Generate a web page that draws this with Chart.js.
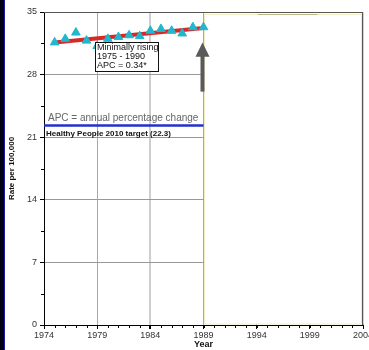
<!DOCTYPE html>
<html lang="en">
<head>
<meta charset="UTF-8">
<title>Rate per 100,000</title>
<script src="https://cdn.jsdelivr.net/npm/chart.js"></script>
<style>
    body, html {
        margin: 0;
        padding: 0;
        background: #fff;
        overflow: hidden;
    }
    .wrap {
        position: relative;
        width: 380px;
        height: 350px;
    }
    .band {
        position: absolute;
        left: 0;
        top: 0;
        width: 4px;
        height: 350px;
        background: #000018;
        border-right: 1px solid #1a1aa0;
    }
</style>
</head>
<body>
<div class="wrap">
    <canvas id="chart" width="380" height="350"></canvas>
    <div class="band"></div>
</div>
<script>
// observed rates (triangles)
var years = [1975, 1976, 1977, 1978, 1979, 1980, 1981, 1982, 1983, 1984, 1985, 1986, 1987, 1988, 1989];
var rates = [31.6, 32.0, 32.7, 31.8, 31.2, 32.0, 32.2, 32.4, 32.3, 32.9, 33.1, 32.9, 32.6, 33.3, 33.3];
// fitted trend 1975 - 1990
var trendYears = [1975, 1989];
var trendRates = [31.6, 33.2];
// Healthy People 2010 target
var targetYears = [1974, 1989];
var targetValue = 22.3;
var xTicks = [1974, 1979, 1984, 1989, 1994, 1999, 2004];
var yTicks = [0, 7, 14, 21, 28, 35];

var font = "'Liberation Sans', Arial, sans-serif";

function pts(xs, ys) {
    return xs.map(function (x, i) { return { x: x, y: Array.isArray(ys) ? ys[i] : ys }; });
}

var extras = {
    id: 'extras',
    beforeDatasetsDraw: function (chart) {
        var ctx = chart.ctx, xs = chart.scales.x, a = chart.chartArea;
        var x0 = Math.round(xs.getPixelForValue(1989)) + 0.5;
        ctx.save();
        // blank panel after 1989
        ctx.fillStyle = '#fff';
        ctx.fillRect(x0 + 0.5, a.top, a.right - x0, a.bottom - a.top - 1);
        ctx.strokeStyle = '#f2edc4';
        ctx.lineWidth = 1;
        ctx.strokeRect(x0, a.top + 2.5, a.right - x0 - 1.5, a.bottom - a.top - 3.5);
        // frame top and right
        ctx.strokeStyle = '#555';
        ctx.beginPath();
        ctx.moveTo(a.left, a.top + 0.5);
        ctx.lineTo(a.right, a.top + 0.5);
        ctx.moveTo(a.right - 0.5, a.top);
        ctx.lineTo(a.right - 0.5, a.bottom);
        ctx.stroke();
        // remnant line near top
        ctx.strokeStyle = '#b9b98a';
        ctx.beginPath();
        ctx.moveTo(xs.getPixelForValue(1994.1), a.top + 2.5);
        ctx.lineTo(xs.getPixelForValue(1999.7), a.top + 2.5);
        ctx.stroke();
        ctx.restore();
    },
    afterDraw: function (chart) {
        var ctx = chart.ctx, xs = chart.scales.x, ys = chart.scales.y, a = chart.chartArea;
        ctx.save();
        // minor ticks
        ctx.strokeStyle = '#000';
        ctx.lineWidth = 1;
        ctx.beginPath();
        for (var yr = 1974; yr <= 2004; yr++) {
            var px = Math.round(xs.getPixelForValue(yr)) + 0.5;
            ctx.moveTo(px, a.bottom);
            ctx.lineTo(px, a.bottom + 3);
        }
        for (var v = 3.5; v < 35; v += 7) {
            var py = Math.round(ys.getPixelForValue(v)) + 0.5;
            ctx.moveTo(a.left, py);
            ctx.lineTo(a.left - 3, py);
        }
        ctx.stroke();

        // arrow at 1989
        var ax = xs.getPixelForValue(1989) - 1;
        var tip = ys.getPixelForValue(31.6);
        var base = ys.getPixelForValue(30.0);
        var tail = ys.getPixelForValue(26.1);
        ctx.fillStyle = '#5a5a5a';
        ctx.fillRect(ax - 2, base - 1, 4, tail - base + 1);
        ctx.beginPath();
        ctx.moveTo(ax, tip);
        ctx.lineTo(ax - 7, base);
        ctx.lineTo(ax + 7, base);
        ctx.closePath();
        ctx.fill();

        // trend box
        var bx = xs.getPixelForValue(1978.8), by = ys.getPixelForValue(31.65);
        ctx.fillStyle = '#fff';
        ctx.fillRect(bx, by, 63, 29);
        ctx.strokeStyle = '#111';
        ctx.strokeRect(Math.round(bx) + 0.5, Math.round(by) + 0.5, 63, 29);
        ctx.fillStyle = '#111';
        ctx.font = '9px ' + font;
        ctx.textBaseline = 'middle';
        ctx.fillText('Minimally rising', bx + 2, by + 5.5);
        ctx.fillText('1975 - 1990', bx + 2, by + 14.5);
        ctx.fillText('APC = 0.34*', bx + 2, by + 23.5);

        // notes
        ctx.fillStyle = '#666';
        ctx.font = '10px ' + font;
        ctx.fillText('APC = annual percentage change', a.left + 4, ys.getPixelForValue(23.1));
        ctx.fillStyle = '#111';
        ctx.font = 'bold 8px ' + font;
        ctx.fillText('Healthy People 2010 target (22.3)', a.left + 2, ys.getPixelForValue(21.4));
        ctx.restore();
    }
};

new Chart(document.getElementById('chart'), {
    type: 'scatter',
    data: {
        datasets: [
            {
                type: 'line',
                data: pts(targetYears, targetValue),
                borderColor: '#2430c8',
                borderWidth: 2.5,
                pointRadius: 0
            },
            {
                data: pts(years, rates),
                pointStyle: 'triangle',
                pointRadius: 5,
                backgroundColor: '#22b8cc',
                borderColor: '#22b8cc'
            },
            {
                type: 'line',
                data: pts(trendYears, trendRates),
                borderColor: '#d42a2a',
                borderWidth: 4,
                pointRadius: 0
            },
            {
                type: 'line',
                data: pts(trendYears, trendRates),
                borderColor: '#f6d6d6',
                borderWidth: 1.5,
                borderDash: [3, 4],
                pointRadius: 0
            }
        ]
    },
    options: {
        animation: false,
        responsive: false,
        events: [],
        layout: { padding: { top: 12, left: 7, right: 17, bottom: 0 } },
        plugins: {
            legend: { display: false },
            tooltip: { enabled: false }
        },
        scales: {
            x: {
                type: 'linear',
                min: 1974,
                max: 2004,
                afterBuildTicks: function (s) { s.ticks = xTicks.map(function (v) { return { value: v }; }); },
                afterFit: function (s) { s.height = 25; },
                ticks: {
                    color: '#333',
                    font: { family: font, size: 9 },
                    padding: 1,
                    maxRotation: 0,
                    callback: function (v) { return String(v); }
                },
                grid: {
                    color: function (c) { return c.tick.value === 1984 ? '#cfcfcf' : '#a8a8a8'; },
                    lineWidth: function (c) { return c.tick.value === 1984 ? 2 : 1; },
                    tickLength: 4,
                    tickColor: '#000'
                },
                border: { color: '#000', width: 1 },
                title: {
                    display: true,
                    text: 'Year',
                    color: '#111',
                    font: { family: font, size: 9, weight: 'bold' },
                    padding: 0
                }
            },
            y: {
                min: 0,
                max: 35,
                afterBuildTicks: function (s) { s.ticks = yTicks.map(function (v) { return { value: v }; }); },
                afterFit: function (s) { s.width = 37; },
                ticks: {
                    color: '#333',
                    font: { family: font, size: 9 },
                    padding: 3
                },
                grid: {
                    color: function (c) { return c.tick.value === 35 || c.tick.value === 0 ? 'rgba(0,0,0,0)' : '#999'; },
                    tickLength: 4,
                    tickColor: '#000'
                },
                border: { color: '#000', width: 1 },
                title: {
                    display: true,
                    text: 'Rate per 100,000',
                    color: '#111',
                    font: { family: font, size: 8, weight: 'bold' },
                    padding: 0
                }
            }
        }
    },
    plugins: [extras]
});
</script>
</body>
</html>
